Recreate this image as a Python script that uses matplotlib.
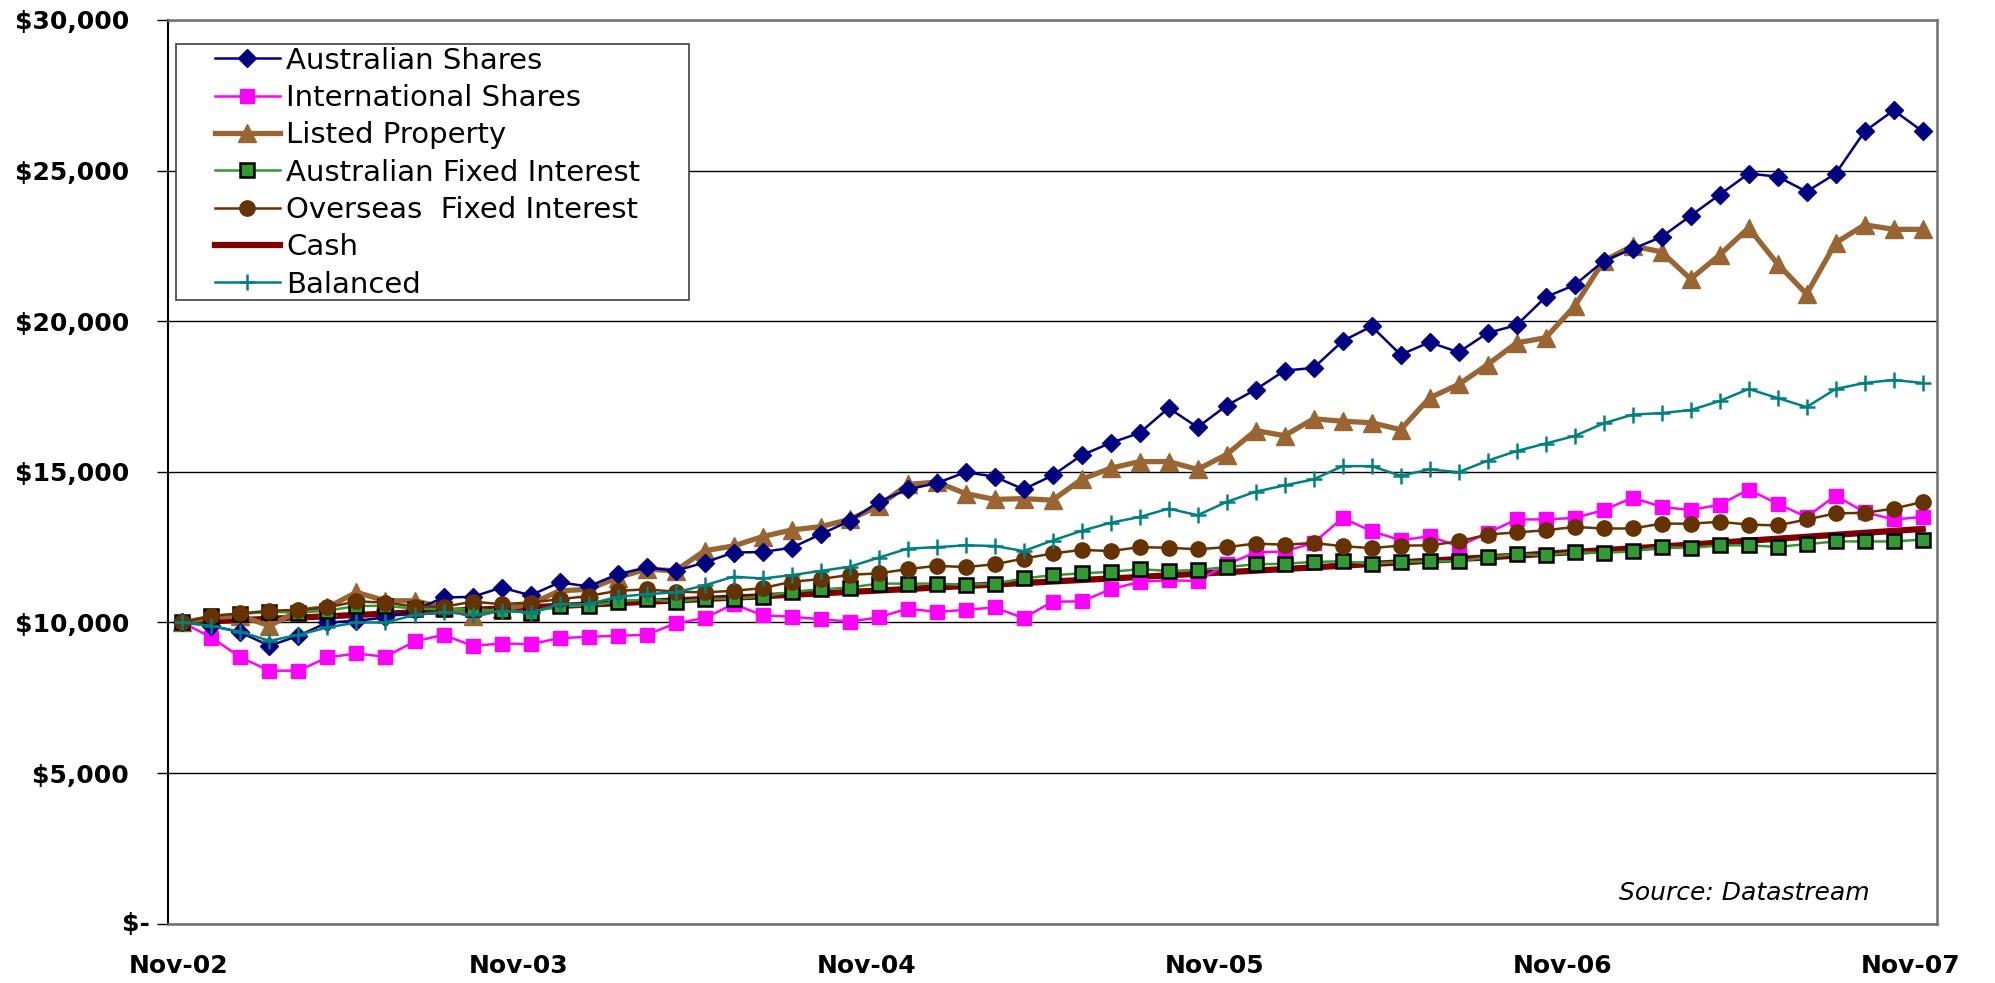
import numpy as np
import matplotlib
matplotlib.use("Agg")
import matplotlib.pyplot as plt
from matplotlib.patches import Rectangle
from matplotlib.ticker import FuncFormatter
from matplotlib.transforms import blended_transform_factory, offset_copy

plt.rcParams['font.family'] = ['DejaVu Sans']

# monthly values of $10,000 invested, Nov-02 .. Nov-07
tick_labels = ["Nov-02", "Nov-03", "Nov-04", "Nov-05", "Nov-06", "Nov-07"]

aus_shares = [10000, 9890, 9670, 9225, 9560, 10000, 10055, 10165, 10400, 10830,
              10850, 11160, 10900, 11330, 11195, 11600, 11825, 11715, 11990, 12320,
              12340, 12480, 12925, 13370, 14000, 14420, 14620, 14990, 14840, 14420,
              14880, 15550, 15960, 16290, 17120, 16480, 17200, 17730, 18360, 18450,
              19340, 19830, 18890, 19300, 18970, 19610, 19870, 20800, 21200, 22000,
              22400, 22800, 23500, 24200, 24900, 24800, 24300, 24900, 26300, 27000,
              26300]

intl_shares = [10000, 9500, 8840, 8400, 8400, 8840, 8970, 8860, 9370, 9590,
               9225, 9300, 9280, 9480, 9525, 9560, 9590, 9970, 10145, 10610,
               10240, 10190, 10110, 10030, 10165, 10460, 10350, 10420, 10500, 10145,
               10690, 10700, 11100, 11350, 11400, 11380, 11930, 12320, 12360, 12640,
               13470, 13030, 12730, 12860, 12530, 12970, 13420, 13420, 13470, 13730,
               14140, 13840, 13730, 13910, 14410, 13940, 13500, 14210, 13660, 13420,
               13500]

listed_property = [10000, 10170, 10220, 9890, 10390, 10500, 11000, 10720, 10720, 10500,
                   10220, 10440, 10610, 11050, 11100, 11490, 11770, 11715, 12380, 12540,
                   12850, 13070, 13180, 13420, 13860, 14580, 14660, 14280, 14085, 14110,
                   14060, 14750, 15120, 15340, 15340, 15080, 15575, 16370, 16200, 16760,
                   16680, 16630, 16400, 17455, 17900, 18560, 19280, 19450, 20500, 22000,
                   22500, 22300, 21400, 22200, 23100, 21900, 20900, 22600, 23200, 23050,
                   23050]

aus_fixed = [10000, 10220, 10280, 10350, 10330, 10390, 10550, 10550, 10460, 10440,
             10440, 10390, 10330, 10550, 10550, 10690, 10770, 10690, 10780, 10790,
             10860, 11020, 11100, 11160, 11290, 11290, 11290, 11250, 11290, 11460,
             11570, 11630, 11680, 11770, 11710, 11740, 11840, 11930, 11950, 12010,
             12030, 11950, 12010, 12030, 12030, 12170, 12270, 12230, 12330, 12310,
             12360, 12500, 12470, 12560, 12560, 12510, 12600, 12690, 12690, 12690,
             12750]

os_fixed = [10000, 10220, 10300, 10390, 10420, 10500, 10700, 10660, 10530, 10520,
            10690, 10610, 10660, 10770, 10880, 11050, 11100, 11020, 11000, 11050,
            11140, 11350, 11440, 11580, 11630, 11770, 11880, 11840, 11930, 12120,
            12290, 12410, 12370, 12500, 12480, 12430, 12500, 12620, 12580, 12640,
            12530, 12470, 12550, 12560, 12690, 12920, 12990, 13060, 13170, 13120,
            13120, 13280, 13280, 13340, 13250, 13220, 13420, 13620, 13640, 13780,
            14000]

cash = [10000, 10040, 10080, 10120, 10165, 10205, 10250, 10290, 10335, 10375,
        10420, 10460, 10505, 10550, 10595, 10640, 10685, 10730, 10780, 10825,
        10870, 10920, 10965, 11015, 11060, 11110, 11160, 11210, 11260, 11310,
        11360, 11410, 11460, 11510, 11565, 11615, 11670, 11720, 11775, 11830,
        11885, 11940, 11995, 12050, 12105, 12160, 12220, 12280, 12340, 12400,
        12460, 12520, 12585, 12650, 12715, 12780, 12845, 12910, 12975, 13040,
        13105]

balanced = [10000, 9890, 9690, 9390, 9590, 9835, 10000, 10000, 10245, 10350,
            10245, 10390, 10330, 10610, 10610, 10850, 10940, 11000, 11230, 11520,
            11460, 11570, 11710, 11850, 12150, 12450, 12500, 12560, 12540, 12370,
            12720, 13040, 13310, 13500, 13780, 13560, 14000, 14340, 14550, 14750,
            15190, 15190, 14870, 15080, 14990, 15370, 15690, 15940, 16190, 16610,
            16900, 16950, 17050, 17350, 17750, 17450, 17150, 17750, 17950, 18050,
            17950]

x = np.arange(len(aus_shares))

fig = plt.figure(figsize=(19.95, 9.83), dpi=100)
ax = fig.add_axes([0.0842, 0.0603, 0.8868, 0.9194])

l_cash, = ax.plot(x, cash, color="#800000", lw=4.5, zorder=2, label="Cash")
l_intl, = ax.plot(x, intl_shares, color="#FF00FF", lw=1.8, marker="s", ms=10.5,
                  mec="#FF00FF", zorder=3, label="International Shares")
l_prop, = ax.plot(x, listed_property, color="#996633", lw=3.8, marker="^", ms=13,
                  mec="#996633", zorder=4, label="Listed Property")
l_aus, = ax.plot(x, aus_shares, color="#000080", lw=1.8, marker="D", ms=9.5,
                 mec="#000080", zorder=5, label="Australian Shares")
l_afi, = ax.plot(x, aus_fixed, color="#339933", lw=1.8, marker="s", ms=9.5,
                 mfc="#339933", mec="black", mew=1.8, zorder=6,
                 label="Australian Fixed Interest")
l_ofi, = ax.plot(x, os_fixed, color="#663300", lw=1.8, marker="o", ms=11,
                 mec="#663300", zorder=7, label="Overseas  Fixed Interest")
l_bal, = ax.plot(x, balanced, color="#008080", lw=1.8, marker="+", ms=12,
                 mew=1.8, zorder=8, label="Balanced")

ax.set_xlim(-0.5, 60.5)
ax.set_ylim(0, 30000)
ax.set_yticks(np.arange(0, 30001, 5000))
# zero label is drawn separately, it sits closer to the axis
ax.yaxis.set_major_formatter(FuncFormatter(lambda v, p: "" if v == 0 else "${:,.0f}".format(v)))
# labels sit a little left of the month point, as in the source chart
tick_pos = np.arange(0, 61, 12) - 0.42
tick_pos[0] = -0.13
ax.set_xticks(tick_pos)
ax.set_xticklabels(tick_labels)
ax.grid(axis="y", color="black", lw=1.0, zorder=1)
ax.set_axisbelow(True)

for lab in ax.get_xticklabels() + ax.get_yticklabels():
    lab.set_fontweight("bold")
    lab.set_fontsize(18)
ax.tick_params(axis="y", length=8, width=1, pad=20)
ax.tick_params(axis="x", length=0, pad=22)

trans = offset_copy(blended_transform_factory(ax.transAxes, ax.transData),
                    fig=fig, x=-13, y=0, units="points")
ax.text(0, 0, "$-", transform=trans, ha="right", va="center",
        fontsize=18, fontweight="bold", clip_on=False)

ax.spines["left"].set_color("black")
ax.spines["left"].set_linewidth(1.5)
for s in ["top", "right", "bottom"]:
    ax.spines[s].set_color("#707070")
    ax.spines[s].set_linewidth(1.8)

# legend box
box = Rectangle((0.088, 0.6948), 0.2574, 0.2609, transform=fig.transFigure,
                facecolor="white", edgecolor="#404040", lw=1.2, zorder=20, clip_on=False)
ax.add_patch(box)
handles = [l_aus, l_intl, l_prop, l_afi, l_ofi, l_cash, l_bal]
leg = ax.legend(handles=handles, loc="upper left", bbox_to_anchor=(0.1003, 0.9675),
                bbox_transform=fig.transFigure, frameon=False, fontsize=21,
                borderpad=0, handlelength=2.24, handletextpad=0.22,
                labelspacing=0.32, numpoints=1)
leg.set_zorder(21)

fig.text(0.937, 0.0916, "Source: Datastream", ha="right", va="center",
         fontsize=18, style="italic")

plt.savefig("out.png", dpi=100)
